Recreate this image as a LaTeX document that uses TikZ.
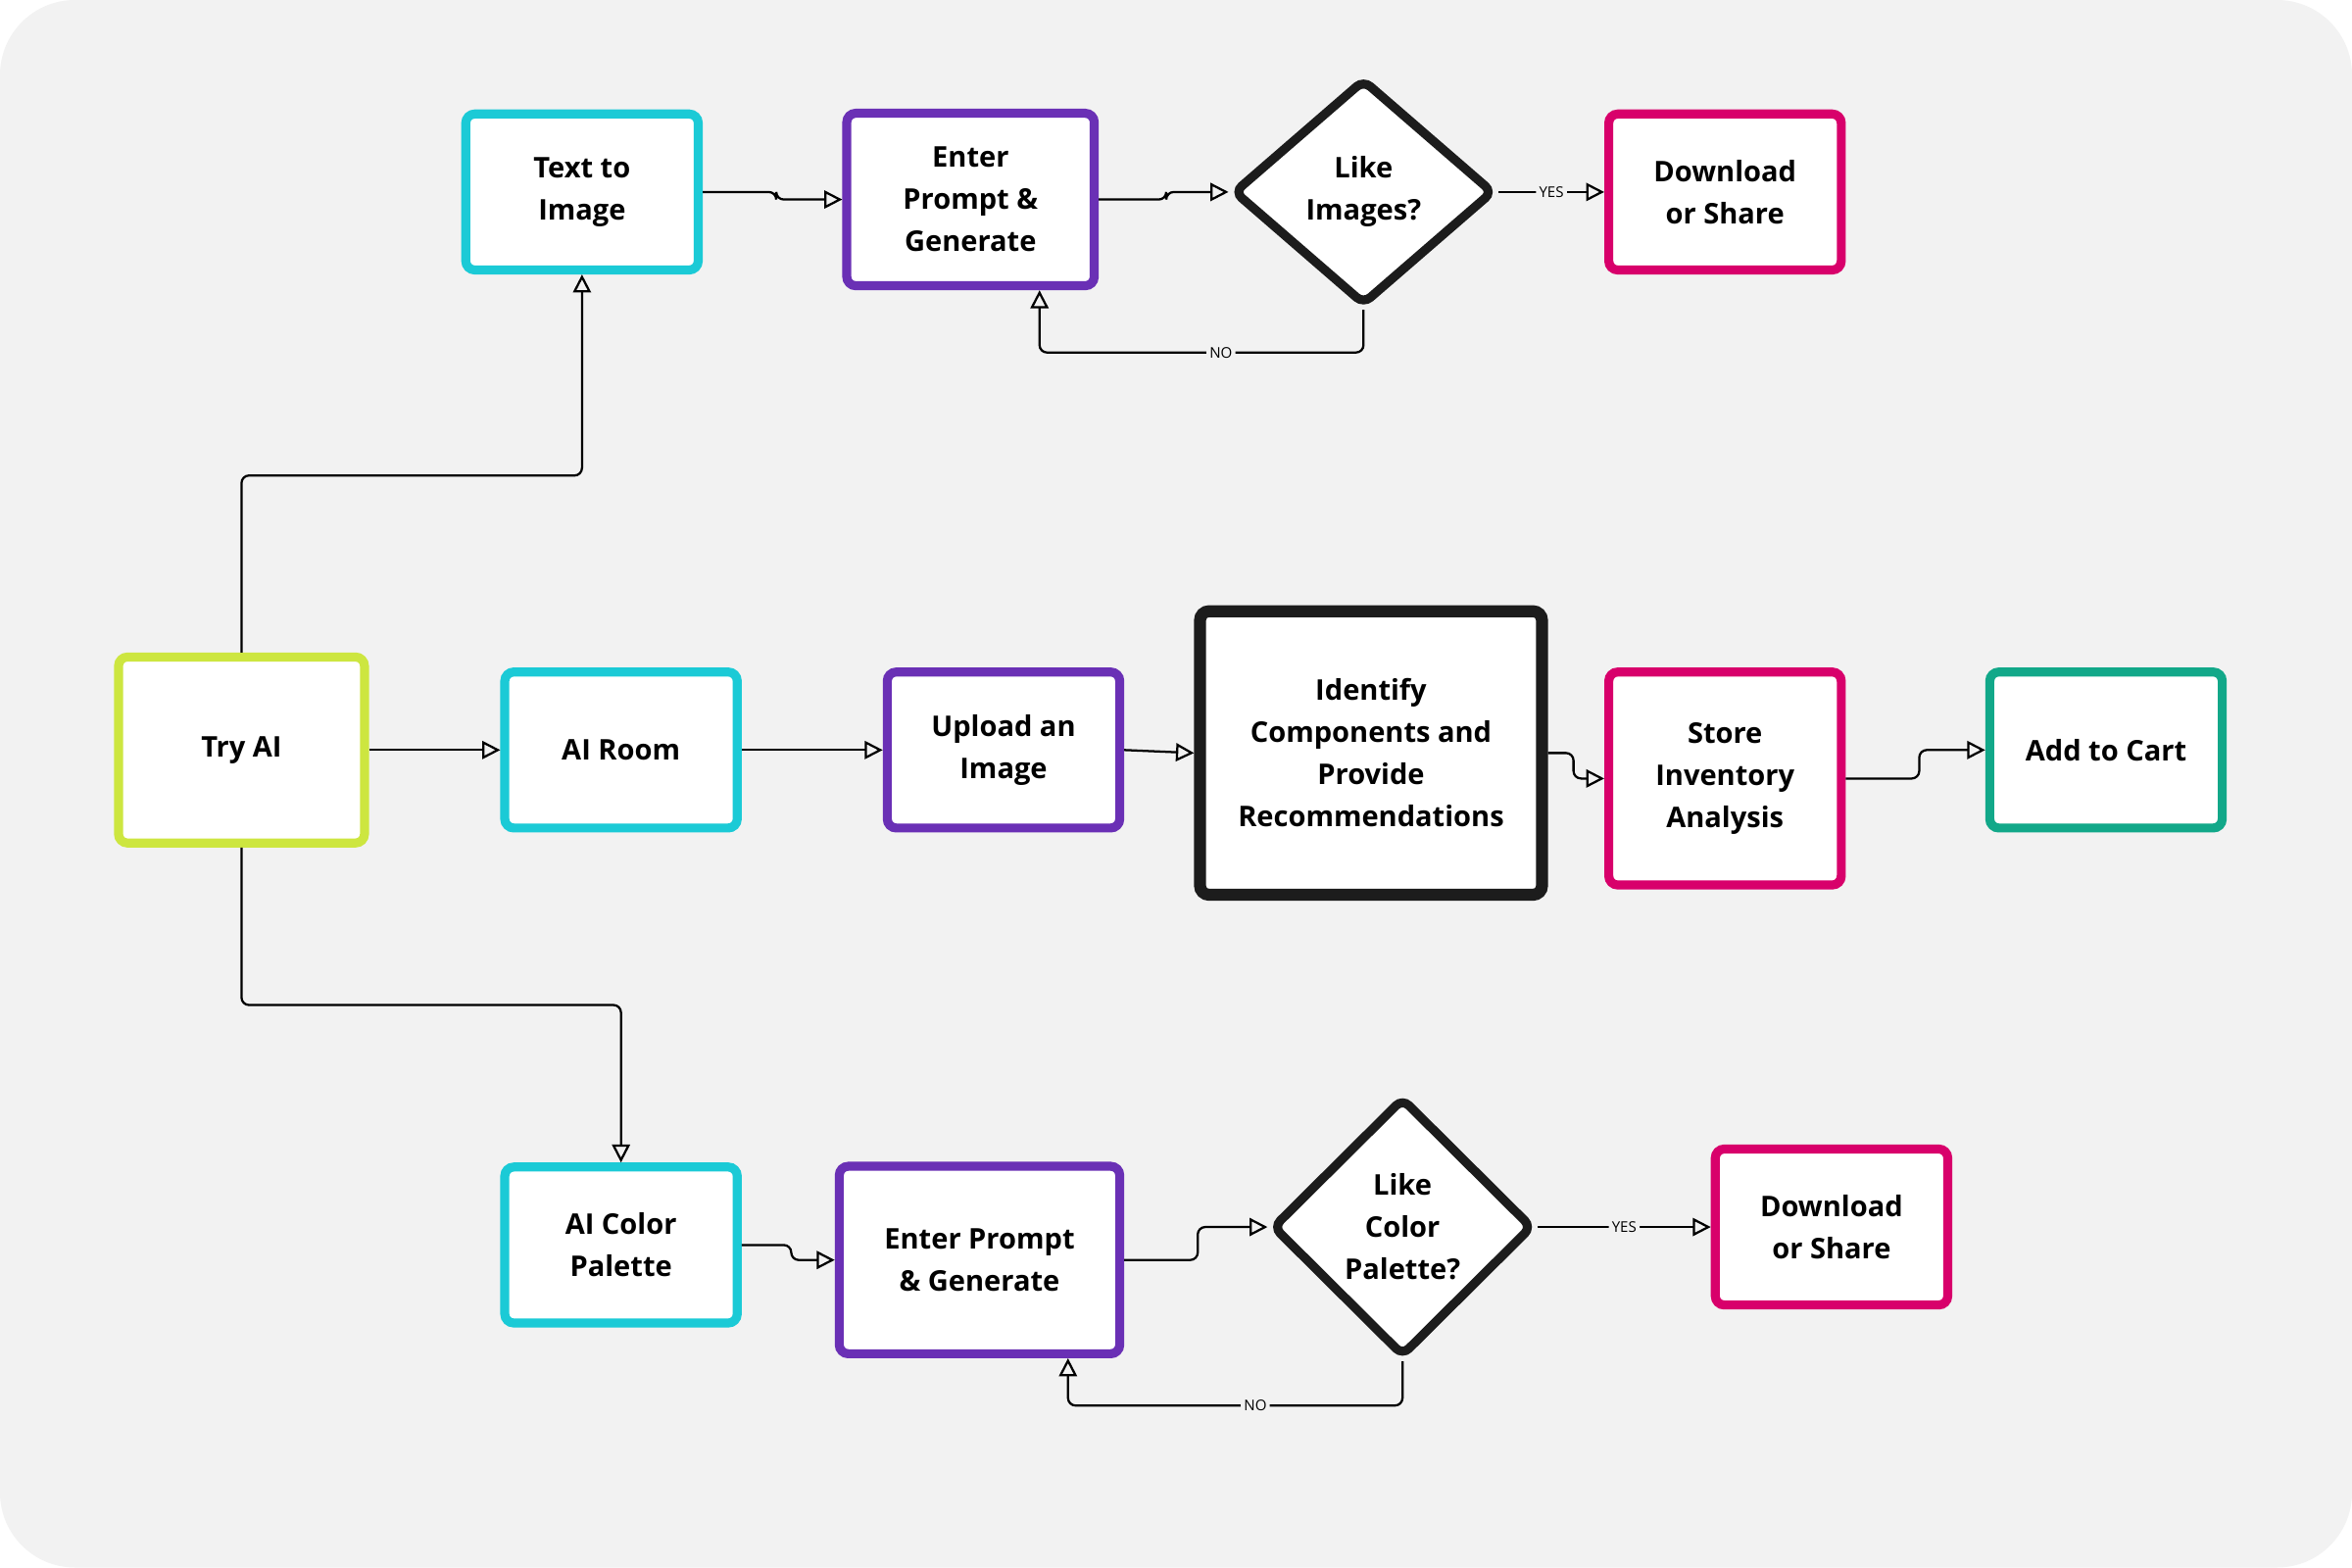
\documentclass[tikz,border=0pt]{standalone}
\usepackage{fontspec}
\setmainfont{Open Sans}
\usetikzlibrary{shapes.geometric,arrows.meta}
\definecolor{cyanbox}{HTML}{1BCAD6}
\definecolor{purplebox}{HTML}{6A30B5}
\definecolor{pinkbox}{HTML}{D8006B}
\definecolor{limebox}{HTML}{CDE640}
\definecolor{tealbox}{HTML}{12A889}
\definecolor{darkbox}{HTML}{1C1C1C}
\definecolor{canvas}{HTML}{F2F2F2}
\tikzset{
  font={\fontsize{27pt}{40pt}\selectfont\bfseries},
  box/.style={draw, fill=white, line width=0.3cm, rounded corners=0.3cm,
    align=center, inner sep=0pt, minimum width=7.75cm, minimum height=5.2cm},
  choice/.style={diamond, draw=darkbox, fill=white, line width=0.3cm,
    rounded corners=0.3cm, align=center, inner sep=0pt,
    minimum width=8.7cm, minimum height=7.55cm},
  link/.style={draw=black, line width=2.1pt, rounded corners=0.25cm,
    -{Triangle[open, length=0.6cm, width=0.6cm, line width=2.1pt]}},
  tag/.style={fill=canvas, inner sep=3pt, font={\fontsize{14pt}{16pt}\selectfont}}
}
\begin{document}
\begin{tikzpicture}[x=0.05cm, y=-0.05cm]
\fill[white] (0,0) rectangle (1568,1045);
\fill[canvas, rounded corners=2.5cm] (0,0) rectangle (1568,1045);
\useasboundingbox (0,0) rectangle (1568,1045);
% top row
\node[box, draw=cyanbox] (t2i) at (388,128) {Text to\\Image};
\node[box, draw=purplebox, minimum width=8.25cm, minimum height=5.75cm] (enter1) at (647,133) {Enter\\Prompt \&\\Generate};
\node[choice] (like1) at (909,128) {Like\\Images?};
\node[box, draw=pinkbox] (dl1) at (1150,128) {Download\\or Share};
% middle row
\node[box, draw=limebox, minimum width=8.2cm, minimum height=6.2cm] (tryai) at (161,500) {Try AI};
\node[box, draw=cyanbox] (room) at (414,500) {AI Room};
\node[box, draw=purplebox] (upload) at (669,500) {Upload an\\Image};
\node[box, draw=darkbox, line width=0.4cm, minimum width=11.4cm, minimum height=9.45cm] (ident) at (914,502) {Identify\\Components and\\Provide\\Recommendations};
\node[box, draw=pinkbox, minimum height=7.1cm] (store) at (1150,519) {Store\\Inventory\\Analysis};
\node[box, draw=tealbox] (cart) at (1404,500) {Add to Cart};
% bottom row
\node[box, draw=cyanbox] (palette) at (414,830) {AI Color\\Palette};
\node[box, draw=purplebox, minimum width=9.35cm, minimum height=6.25cm] (enter2) at (653,840) {Enter Prompt\\\& Generate};
\node[choice, minimum height=8.65cm] (like2) at (935,818) {Like\\Color\\Palette?};
\node[box, draw=pinkbox] (dl2) at (1221,818) {Download\\or Share};
% connectors
\draw[link] (tryai.north) |- (388,317) -- (t2i.south);
\draw[link] (tryai.south) |- (414,670) -- (palette.north);
\draw[link] (t2i.east) -- ++(49,0) |- (enter1.west);
\draw[link] (enter1.east) -- ++(45,0) |- (like1.west);
\draw[link] (like1.east) -- node[tag] {YES} (dl1.west);
\draw[link] (like1.south) |- node[tag, pos=0.72] {NO} (693,235) -- (enter1.south -| 693,0);
\draw[link] (tryai.east) -- (room.west);
\draw[link] (room.east) -- (upload.west);
\draw[link] (upload.east) -- (ident.west);
\draw[link] (ident.east) -- ++(17,0) |- (store.west);
\draw[link] (store.east) -- ++(49,0) |- (cart.west);
\draw[link] (palette.east) -- ++(33,0) |- (enter2.west);
\draw[link] (enter2.east) -- ++(49,0) |- (like2.west);
\draw[link] (like2.east) -- node[tag] {YES} (dl2.west);
\draw[link] (like2.south) |- node[tag, pos=0.72] {NO} (712,937) -- (enter2.south -| 712,0);
\end{tikzpicture}
\end{document}
